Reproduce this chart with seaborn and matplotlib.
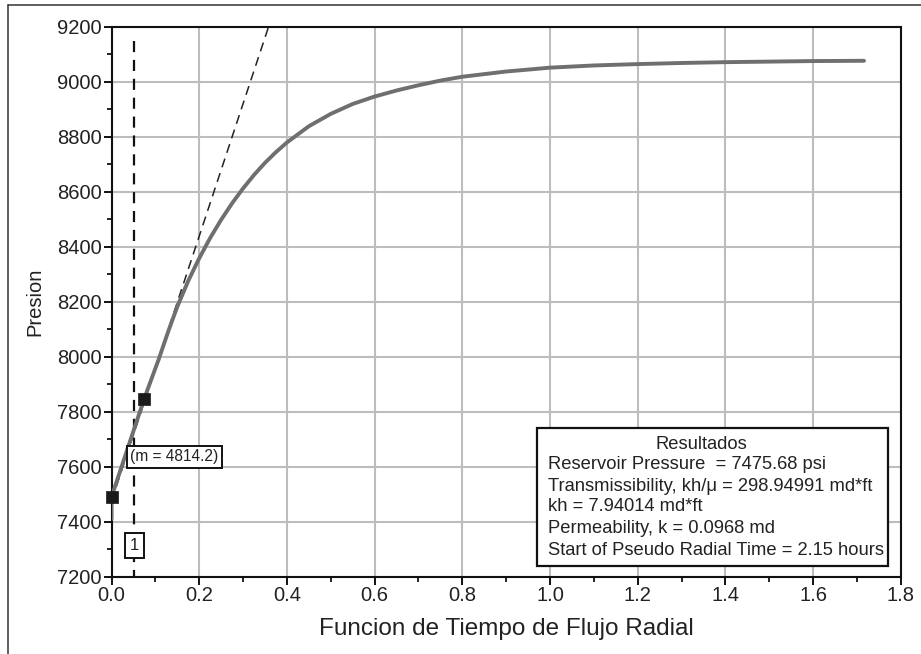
import matplotlib
matplotlib.use("Agg")
import matplotlib.pyplot as plt
from matplotlib.lines import Line2D
from matplotlib.patches import Rectangle
from matplotlib.ticker import MultipleLocator, FormatStrFormatter
import seaborn as sns
import pandas as pd

# ---- data ----
tiempo = [0.0, 0.0, 0.074, 0.107, 0.130, 0.150, 0.175, 0.200, 0.225, 0.250,
          0.275, 0.300, 0.325, 0.350, 0.375, 0.400, 0.450, 0.500, 0.550,
          0.600, 0.650, 0.700, 0.750, 0.800, 0.900, 1.000, 1.100, 1.200,
          1.300, 1.400, 1.500, 1.600, 1.716]
presion = [7410, 7490, 7845, 7988, 8095, 8182, 8276, 8358, 8432, 8498,
           8558, 8612, 8661, 8705, 8744, 8779, 8838, 8883, 8919,
           8946, 8968, 8987, 9004, 9018, 9037, 9051, 9059, 9064,
           9068, 9071, 9073, 9075, 9076]
marker_x = [0.0, 0.074]
marker_y = [7490, 7845]
p_res = 7475.68        # reservoir pressure (intercept)
m_slope = 4814.2       # slope of the straight line
t_start = 0.051        # start of pseudo radial line position
x_ticks = [0.0, 0.2, 0.4, 0.6, 0.8, 1.0, 1.2, 1.4, 1.6, 1.8]
y_ticks = [7200, 7400, 7600, 7800, 8000, 8200, 8400, 8600, 8800, 9000, 9200]
result_title = "Resultados"
result_lines = [
    "Reservoir Pressure  = 7475.68 psi",
    "Transmissibility, kh/\u03bc = 298.94991 md*ft",
    "kh = 7.94014 md*ft",
    "Permeability, k = 0.0968 md",
    "Start of Pseudo Radial Time = 2.15 hours",
]

sns.set_theme(style="white")
plt.rcParams['font.family'] = ['Liberation Sans', 'DejaVu Sans']

fig = plt.figure(figsize=(9.21, 6.54), dpi=100)
ax = fig.add_axes([0.1211, 0.1182, 0.857, 0.841])

df = pd.DataFrame({"t": tiempo, "p": presion})
sns.lineplot(data=df, x="t", y="p", ax=ax, sort=False, estimator=None,
             color="#6f6f6f", linewidth=2.8, zorder=4)

# straight-line (radial) fit
x_end = (y_ticks[-1] - p_res) / m_slope
ax.plot([0.0, x_end], [p_res, p_res + m_slope * x_end], color="#222222",
        linewidth=1.1, linestyle=(0, (6, 4)), zorder=3)

# vertical dashed line
ax.plot([t_start, t_start], [9148, y_ticks[0]], color="#111111",
        linewidth=1.6, linestyle=(0, (5, 3.5)), zorder=3)

mk = pd.DataFrame({"t": marker_x, "p": marker_y})
sns.scatterplot(data=mk, x="t", y="p", ax=ax, marker="s", s=80,
                color="#1a1a1a", edgecolor="#1a1a1a", linewidth=0.5,
                zorder=6, clip_on=False)

ax.set_xlim(x_ticks[0], x_ticks[-1])
ax.set_ylim(y_ticks[0], y_ticks[-1])
ax.set_xticks(x_ticks)
ax.set_yticks(y_ticks)
ax.xaxis.set_major_formatter(FormatStrFormatter('%.1f'))
ax.xaxis.set_minor_locator(MultipleLocator(0.1))
ax.yaxis.set_minor_locator(MultipleLocator(100))
ax.grid(True, which='major', color="#bdbdbd", linewidth=1.5, zorder=0)
ax.set_axisbelow(True)

for s in ax.spines.values():
    s.set_color("#111111")
    s.set_linewidth(1.5)
ax.tick_params(which='major', direction='out', length=5.5, width=1.4,
               colors="#111111", labelsize=14.5, labelcolor="#222222", pad=1.5,
               bottom=True, left=True)
ax.tick_params(which='minor', direction='out', length=3.5, width=1.3,
               colors="#111111", bottom=True, left=True)

ax.set_xlabel("Funcion de Tiempo de Flujo Radial", fontsize=17.5,
              color="#222222", labelpad=9)
ax.set_ylabel("Presion", fontsize=14.5, color="#222222", labelpad=9)

# slope label
ax.text(0.1437, 7636, "(m = 4814.2)", fontsize=11.2, ha='center', va='center',
        color="#222222", zorder=7,
        bbox=dict(boxstyle='square,pad=0.22', facecolor='white',
                  edgecolor='#111111', linewidth=1.4))
# marker label "1"
ax.text(0.0517, 7315, "1", fontsize=12, ha='center', va='center',
        color="#222222", zorder=7,
        bbox=dict(boxstyle='square,pad=0.3', facecolor='white',
                  edgecolor='#111111', linewidth=1.4))

# results box
ax.add_patch(Rectangle((0.970, 7239), 0.801, 502, facecolor='white',
                       edgecolor='#111111', linewidth=1.6, zorder=7))
ax.text(1.345, 7679, result_title, fontsize=13.2, ha='center', va='center',
        color="#222222", zorder=8)
line_y = [7609, 7527, 7455, 7376, 7297]
for ly, txt in zip(line_y, result_lines):
    ax.text(0.996, ly, txt, fontsize=13.2, ha='left', va='center',
            color="#222222", zorder=8)

# page frame lines (top and left)
fig.add_artist(Line2D([8 / 921, 1.0], [1 - 5 / 654, 1 - 5 / 654],
                      transform=fig.transFigure, color="#333333", linewidth=1.1))
fig.add_artist(Line2D([8 / 921, 8 / 921], [0.0, 1 - 5 / 654],
                      transform=fig.transFigure, color="#333333", linewidth=1.1))

fig.savefig("out.png", dpi=100)
